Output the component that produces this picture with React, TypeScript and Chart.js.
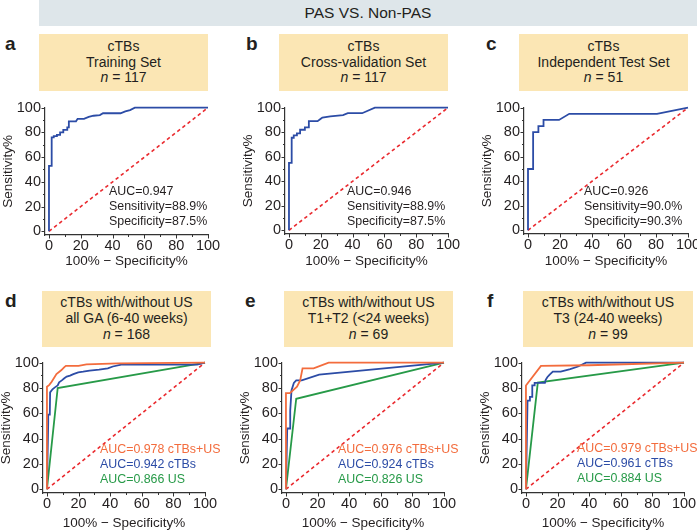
import React, { useEffect, useRef } from 'react';
import { Chart, registerables } from 'chart.js';

Chart.register(...registerables);

const FONT = '"Liberation Sans", Arial, Helvetica, sans-serif';
const TEXT = '#231f20';
const BLUE = '#2c4ca6';
const ORANGE = '#f36c3d';
const GREEN = '#279a48';
const RED = '#ea2a2f';
const YELLOW = '#fbe6b4';
const HEADER_BG = '#dee6ea';

// ---- axis ticks ----
const TICK_VALUES = [0, 10, 20, 30, 40, 50, 60, 70, 80, 90, 100];
const LABELLED_TICKS = [0, 20, 40, 60, 80, 100];
const DIAGONAL = [[0, 0], [100, 100]];

// ---- ROC curves: [100% - Specificity%, Sensitivity%] ----
const trainingCurve = [[0, 0], [0, 53], [1.7, 53], [1.7, 76], [3, 76], [3, 77], [5, 77], [5, 78], [7, 78], [7, 80], [9, 80], [9, 82], [11.5, 82], [11.5, 84], [12.5, 84], [12.5, 89], [17, 89], [18, 91], [22, 91], [25, 92.5], [28, 93.5], [32, 94], [34, 95.5], [45, 95.5], [48, 97], [51, 98], [54, 100], [100, 100]];
const crossValCurve = [[0, 0], [0, 55], [1.7, 55], [1.7, 75.5], [3, 75.5], [3, 77.5], [5, 77.5], [5, 79], [7, 79], [7, 82], [10, 82], [10, 84], [12.5, 84], [12.5, 89], [18, 89], [20, 91], [21, 92], [26, 93], [34, 94], [37, 95.5], [46, 95.5], [54, 100], [100, 100]];
const testCurve = [[0, 0], [0, 50], [3.2, 50], [3.2, 80], [6.5, 80], [6.5, 85], [9.7, 85], [9.7, 90], [19.4, 90], [25.8, 95], [80.6, 95], [100, 100]];

const allGaCombined = [[0, 0], [0, 81], [1.5, 82.5], [3, 85], [6, 91], [9, 94], [11, 96.5], [12, 97.5], [20, 97.5], [25, 98.7], [45, 99.5], [100, 100]];
const allGaCtbs = [[0, 0], [0.8, 53], [0.8, 59], [1.8, 59], [2, 76.5], [3.5, 79], [5, 80.5], [6.8, 82], [7.7, 84.5], [9.4, 86], [11, 87.7], [12.5, 89], [14.6, 89.8], [16.7, 91], [19.8, 92.4], [22.9, 92.9], [27, 93.7], [33, 94.5], [38.5, 95.5], [41.7, 97], [47, 98.5], [95, 98.5], [100, 100]];
const allGaUs = [[0, 0], [6.8, 80], [100, 100]];

const t12Combined = [[0, 0], [0, 76], [2.5, 76], [7, 81], [9, 86], [10.5, 95.5], [17.5, 95.5], [27, 100], [100, 100]];
const t12Ctbs = [[0, 0], [0.8, 48], [2.7, 48], [2.7, 62], [3.5, 78], [5, 84], [6.5, 86], [10, 86], [21, 90.5], [100, 100]];
const t12Us = [[0, 0], [6.5, 71.5], [100, 100]];

const t3Combined = [[0, 0], [0, 82], [9.5, 97.5], [40, 98], [100, 100]];
const t3Ctbs = [[0, 0], [1, 70], [2.5, 70], [2.5, 73], [4, 73], [4, 82], [5.5, 82], [5.5, 84], [12, 84], [12.5, 86.5], [13.5, 88.5], [15, 90.5], [17, 93], [22, 93], [25, 94], [28, 95], [33, 97], [38, 100], [100, 100]];
const t3Us = [[0, 0], [7.5, 84.3], [100, 100]];

// ---- text ----
const HEADER = 'PAS VS. Non-PAS';
const panelLetters = ['a', 'b', 'c', 'd', 'e', 'f'];
const panelTitles = [
  ['cTBs', 'Training Set'],
  ['cTBs', 'Cross-validation Set'],
  ['cTBs', 'Independent Test Set'],
  ['cTBs with/without US', 'all GA (6-40 weeks)'],
  ['cTBs with/without US', 'T1+T2 (<24 weeks)'],
  ['cTBs with/without US', 'T3 (24-40 weeks)'],
];
const panelN = ['117', '117', '51', '168', '69', '99'];
const panelNotes = [
  ['AUC=0.947', 'Sensitivity=88.9%', 'Specificity=87.5%'],
  ['AUC=0.946', 'Sensitivity=88.9%', 'Specificity=87.5%'],
  ['AUC=0.926', 'Sensitivity=90.0%', 'Specificity=90.3%'],
  ['AUC=0.978 cTBs+US', 'AUC=0.942 cTBs', 'AUC=0.866 US'],
  ['AUC=0.976 cTBs+US', 'AUC=0.924 cTBs', 'AUC=0.826 US'],
  ['AUC=0.979 cTBs+US', 'AUC=0.961 cTBs', 'AUC=0.884 US'],
];
const X_TITLE = '100% \u2212 Specificity%';
const Y_TITLE = 'Sensitivity%';

const singleColors = [TEXT, TEXT, TEXT];
const tripleColors = [ORANGE, BLUE, GREEN];

type Panel = {
  curves: { pts: number[][]; color: string }[];
  noteColors: string[];
  cl: number; cr: number; ct: number; cb: number;
  x0: number; xr: number; yt: number; yb: number;
  noteDx: number; noteDy: number; titleDy: number;
  box: { l: number; t: number; w: number; h: number };
  letter: { l: number; t: number };
};

const PANELS: Panel[] = [
  {
    curves: [{ pts: trainingCurve, color: BLUE }], noteColors: singleColors,
    cl: 0, cr: 228, ct: 95, cb: 268, x0: 45, xr: 208, yt: 104, yb: 235,
    noteDx: 64, noteDy: 84, titleDy: 26,
    box: { l: 39, t: 34, w: 169, h: 57 }, letter: { l: 5, t: 33 },
  },
  {
    curves: [{ pts: crossValCurve, color: BLUE }], noteColors: singleColors,
    cl: 238, cr: 468, ct: 95, cb: 268, x0: 285, xr: 448, yt: 104, yb: 234,
    noteDx: 62, noteDy: 84, titleDy: 27,
    box: { l: 279, t: 34, w: 169, h: 57 }, letter: { l: 246, t: 33 },
  },
  {
    curves: [{ pts: testCurve, color: BLUE }], noteColors: singleColors,
    cl: 478, cr: 712, ct: 95, cb: 268, x0: 524, xr: 688, yt: 104, yb: 234,
    noteDx: 60, noteDy: 84, titleDy: 27,
    box: { l: 519, t: 34, w: 169, h: 57 }, letter: { l: 486, t: 33 },
  },
  {
    curves: [{ pts: allGaCombined, color: ORANGE }, { pts: allGaCtbs, color: BLUE }, { pts: allGaUs, color: GREEN }],
    noteColors: tripleColors,
    cl: 0, cr: 225, ct: 350, cb: 530, x0: 43, xr: 205, yt: 362, yb: 493,
    noteDx: 57, noteDy: 87, titleDy: 30,
    box: { l: 42, t: 291, w: 169, h: 56 }, letter: { l: 5, t: 290 },
  },
  {
    curves: [{ pts: t12Combined, color: ORANGE }, { pts: t12Ctbs, color: BLUE }, { pts: t12Us, color: GREEN }],
    noteColors: tripleColors,
    cl: 236, cr: 464, ct: 350, cb: 530, x0: 282, xr: 444, yt: 361, yb: 493,
    noteDx: 56, noteDy: 87, titleDy: 30,
    box: { l: 284, t: 291, w: 169, h: 56 }, letter: { l: 245, t: 290 },
  },
  {
    curves: [{ pts: t3Combined, color: ORANGE }, { pts: t3Ctbs, color: BLUE }, { pts: t3Us, color: GREEN }],
    noteColors: tripleColors,
    cl: 476, cr: 712, ct: 350, cb: 530, x0: 522, xr: 684, yt: 362, yb: 493,
    noteDx: 55, noteDy: 86, titleDy: 30,
    box: { l: 523, t: 291, w: 170, h: 56 }, letter: { l: 487, t: 290 },
  },
];

function toXY(pts: number[][]) {
  return pts.map((p) => ({ x: p[0], y: p[1] }));
}

function PanelChart({ panel, index }: { panel: Panel; index: number }) {
  const ref = useRef<HTMLCanvasElement | null>(null);
  useEffect(() => {
    const canvas = ref.current;
    if (!canvas) return;
    const p = panel;
    const notes = panelNotes[index];

    const decor = {
      id: 'decor' + index,
      afterDraw(chart: any) {
        const ctx = chart.ctx as CanvasRenderingContext2D;
        const ca = chart.chartArea;
        const xs = chart.scales.x;
        const ys = chart.scales.y;
        ctx.save();
        ctx.strokeStyle = '#333';
        ctx.lineWidth = 1;
        TICK_VALUES.forEach((v) => {
          const len = v % 20 === 0 ? 3.5 : 2;
          const px = Math.round(xs.getPixelForValue(v)) + 0.5;
          ctx.beginPath();
          ctx.moveTo(px, ca.bottom);
          ctx.lineTo(px, ca.bottom + len);
          ctx.stroke();
          const py = Math.round(ys.getPixelForValue(v)) + 0.5;
          ctx.beginPath();
          ctx.moveTo(ca.left, py);
          ctx.lineTo(ca.left - len, py);
          ctx.stroke();
        });
        ctx.fillStyle = TEXT;
        ctx.font = `13.5px ${FONT}`;
        ctx.textAlign = 'center';
        ctx.textBaseline = 'middle';
        ctx.fillText(X_TITLE, (ca.left + ca.right) / 2, ca.bottom + p.titleDy);
        ctx.save();
        ctx.translate(ca.left - 37, (ca.top + ca.bottom) / 2);
        ctx.rotate(-Math.PI / 2);
        ctx.fillText(Y_TITLE, 0, 0);
        ctx.restore();
        ctx.font = `12.4px ${FONT}`;
        ctx.textAlign = 'left';
        notes.forEach((t, i) => {
          ctx.fillStyle = p.noteColors[i];
          ctx.fillText(t, ca.left + p.noteDx, ca.top + p.noteDy + i * 14.8);
        });
        ctx.restore();
      },
    };

    const axisCommon = (min: number) => ({
      type: 'linear' as const,
      min,
      max: 100,
      afterBuildTicks: (s: any) => {
        s.ticks = TICK_VALUES.map((v) => ({ value: v }));
      },
      grid: { display: false, drawTicks: false },
      border: { display: true, color: '#333', width: 1.2 },
    });

    const chart = new Chart(canvas, {
      type: 'line',
      data: {
        datasets: [
          ...p.curves.map((c) => ({
            data: toXY(c.pts),
            borderColor: c.color,
            borderWidth: 1.8,
            pointRadius: 0,
            tension: 0,
            clip: false as any,
            fill: false,
          })),
          {
            data: toXY(DIAGONAL),
            borderColor: RED,
            borderWidth: 1.6,
            borderDash: [3.5, 3],
            pointRadius: 0,
            tension: 0,
            fill: false,
          },
        ],
      },
      options: {
        animation: false,
        responsive: false,
        maintainAspectRatio: false,
        devicePixelRatio: 1,
        events: [],
        layout: {
          padding: { left: 0, top: p.yt - p.ct, right: p.cr - p.xr, bottom: 0 },
        },
        plugins: { legend: { display: false }, tooltip: { enabled: false } },
        scales: {
          x: {
            ...axisCommon(-2.5),
            afterFit: (s: any) => {
              s.height = p.cb - p.yb;
            },
            ticks: {
              autoSkip: false,
              maxRotation: 0,
              minRotation: 0,
              padding: 2,
              color: TEXT,
              font: { family: FONT, size: 14.5 },
              callback: (v: any) => (LABELLED_TICKS.includes(Number(v)) ? String(v) : ''),
            },
          },
          y: {
            ...axisCommon(-3),
            afterFit: (s: any) => {
              s.width = p.x0 - p.cl;
            },
            ticks: {
              autoSkip: false,
              padding: 4,
              color: TEXT,
              font: { family: FONT, size: 14.5 },
              callback: (v: any) => (LABELLED_TICKS.includes(Number(v)) ? String(v) : ''),
            },
          },
        },
      } as any,
      plugins: [decor],
    });
    return () => chart.destroy();
  }, [panel, index]);

  const W = panel.cr - panel.cl;
  const H = panel.cb - panel.ct;
  return (
    <canvas
      ref={ref}
      width={W}
      height={H}
      style={{ position: 'absolute', left: panel.cl, top: panel.ct, width: W, height: H }}
    />
  );
}

export default function App() {
  return (
    <div
      style={{
        position: 'fixed',
        left: 0,
        top: 0,
        width: 697,
        height: 530,
        overflow: 'hidden',
        background: '#fff',
        fontFamily: FONT,
        color: TEXT,
      }}
    >
      <div
        style={{
          position: 'absolute',
          left: 39,
          top: 0,
          width: 658,
          height: 26,
          background: HEADER_BG,
          textAlign: 'center',
          lineHeight: '26px',
          fontSize: 15.5,
        }}
      >
        {HEADER}
      </div>
      {PANELS.map((p, i) => (
        <React.Fragment key={i}>
          <div
            style={{
              position: 'absolute',
              left: p.letter.l,
              top: p.letter.t,
              fontSize: 19,
              fontWeight: 'bold',
              lineHeight: '22px',
            }}
          >
            {panelLetters[i]}
          </div>
          <div
            style={{
              position: 'absolute',
              left: p.box.l,
              top: p.box.t,
              width: p.box.w,
              height: p.box.h,
              background: YELLOW,
              display: 'flex',
              flexDirection: 'column',
              justifyContent: 'center',
              alignItems: 'center',
              fontSize: 14,
              lineHeight: '15.7px',
            }}
          >
            <div>{panelTitles[i][0]}</div>
            <div>{panelTitles[i][1]}</div>
            <div>
              <i>n</i> = {panelN[i]}
            </div>
          </div>
          <PanelChart panel={p} index={i} />
        </React.Fragment>
      ))}
    </div>
  );
}
